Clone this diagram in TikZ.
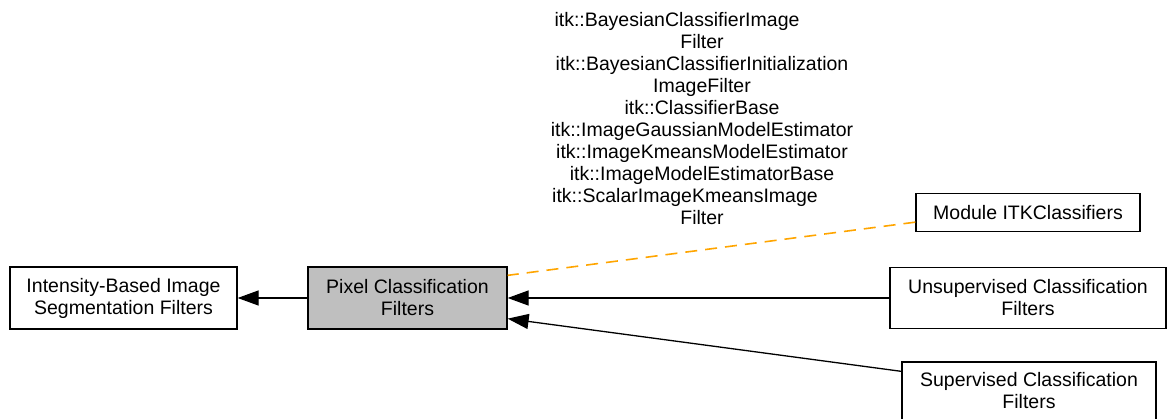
\documentclass[tikz,border=0pt]{standalone}
\usepackage{fontspec}
\setmainfont{Liberation Sans}
\usetikzlibrary{arrows.meta,calc}
\definecolor{dorange}{RGB}{255,165,0}
\definecolor{pixgray}{RGB}{191,191,191}
\tikzset{
  box/.style={draw=black, line width=1.3pt, fill=white, inner sep=0pt, align=center,
    font=\fontsize{19.5}{22}\selectfont},
  edge/.style={line width=1.3pt, -{Triangle[length=21pt,width=15pt]}},
  dashedge/.style={draw=dorange, line width=1.6pt, dash pattern=on 12pt off 8pt},
  lbl/.style={inner sep=0pt, align=center, font=\fontsize{19.5}{22}\selectfont}
}
\begin{document}
\begin{tikzpicture}[x=1pt,y=-1pt]
\useasboundingbox (0,0) rectangle (1168,419);
\node[box, minimum width=227pt, minimum height=62pt] (int) at (123.5,298) {Intensity-Based Image\\Segmentation Filters};
\node[box, fill=pixgray, minimum width=199pt, minimum height=62pt] (pix) at (407.5,298) {Pixel Classification\\Filters};
\node[box, minimum width=224pt, minimum height=38pt] (mod) at (1028,212.5) {Module ITKClassifiers};
\node[box, minimum width=276pt, minimum height=61pt] (uns) at (1028,298) {Unsupervised Classification\\Filters};
\node[box, minimum width=254pt, minimum height=58pt] (sup) at (1029,391) {Supervised Classification\\Filters};
\node[lbl] (txt) at (702,119) {itk::BayesianClassifierImage\rule{50pt}{0pt}\\Filter\\itk::BayesianClassifierInitialization\\ImageFilter\\itk::ClassifierBase\\itk::ImageGaussianModelEstimator\\itk::ImageKmeansModelEstimator\\itk::ImageModelEstimatorBase\\itk::ScalarImageKmeansImage\rule{34pt}{0pt}\\Filter};
\draw[edge] (pix.west) -- (int.east);
\draw[edge] (uns.west) -- (pix.east);
\draw[edge] ($(sup.north west)+(0,10)$) -- ($(pix.south east)+(0,-11)$);
\draw[dashedge] ($(mod.south west)+(0,-10)$) -- ($(pix.north east)+(0,9)$);
\end{tikzpicture}
\end{document}
